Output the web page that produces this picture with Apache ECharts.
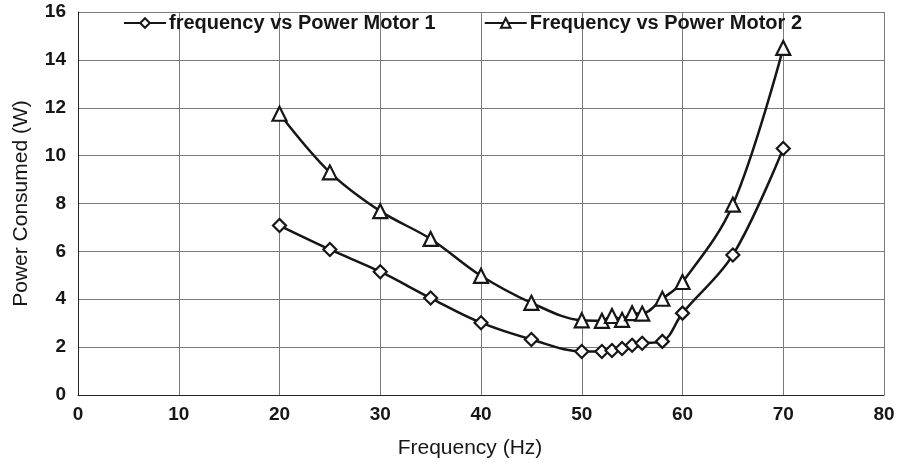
<!DOCTYPE html>
<html><head><meta charset="utf-8">
<script src="https://cdn.jsdelivr.net/npm/echarts@6/dist/echarts.min.js"></script>
<style>html,body{margin:0;padding:0;background:#fff}#c{width:902px;height:465px}</style>
</head><body><div id="c"></div>
<script>
const frequency = [20, 25, 30, 35, 40, 45, 50, 52, 53, 54, 55, 56, 58, 60, 65, 70];
const motor1 = [7.08, 6.08, 5.15, 4.05, 3.02, 2.32, 1.82, 1.82, 1.86, 1.94, 2.08, 2.16, 2.24, 3.42, 5.85, 10.3];
const motor2 = [11.75, 9.3, 7.68, 6.52, 4.98, 3.85, 3.12, 3.1, 3.3, 3.14, 3.42, 3.4, 4.02, 4.72, 7.95, 14.5];
const seriesNames = ['frequency vs Power Motor 1', 'Frequency vs Power Motor 2'];
const xTicks = {min: 0, max: 80, interval: 10};
const yTicks = {min: 0, max: 16, interval: 2};

const chart = echarts.init(document.getElementById('c'));
const font = 'Liberation Sans, Arial, sans-serif';
function mk(name, vals, symbol, size) {
  return {
    name, type: 'line', smooth: 0.35,
    data: frequency.map((f, i) => [f, vals[i]]),
    symbol, symbolSize: size, showAllSymbol: true,
    lineStyle: {color: '#161616', width: 2.5},
    itemStyle: {color: '#fff', borderColor: '#161616', borderWidth: 2.2},
    emphasis: {disabled: true}
  };
}
chart.setOption({
  animation: false,
  backgroundColor: '#fff',
  grid: {left: 78, right: 18, top: 12, bottom: 70, containLabel: false, outerBoundsMode: 'none'},
  legend: {
    top: 8, left: 118, itemGap: 48, itemWidth: 42, itemHeight: 12,
    textStyle: {fontFamily: font, fontWeight: 'bold', fontSize: 20, color: '#161616', padding: [0, 0, 0, -2]},
    data: seriesNames
  },
  xAxis: {
    type: 'value', min: xTicks.min, max: xTicks.max, interval: xTicks.interval,
    name: 'Frequency (Hz)', nameLocation: 'middle', nameGap: 43,
    nameTextStyle: {fontFamily: font, fontSize: 21, color: '#161616', padding: [0, 22, 0, 0]},
    axisLine: {lineStyle: {color: '#222', width: 1}},
    axisTick: {show: false},
    axisLabel: {fontFamily: font, fontWeight: 'bold', fontSize: 19, color: '#161616', margin: 10},
    splitLine: {show: true, lineStyle: {color: '#7a7a7a', width: 1}}
  },
  yAxis: {
    type: 'value', min: yTicks.min, max: yTicks.max, interval: yTicks.interval,
    name: 'Power Consumed (W)', nameLocation: 'middle', nameGap: 46,
    nameTextStyle: {fontFamily: font, fontSize: 21, color: '#161616'},
    axisLine: {show: true, lineStyle: {color: '#222', width: 1}},
    axisTick: {show: false},
    axisLabel: {fontFamily: font, fontWeight: 'bold', fontSize: 19, color: '#161616', margin: 12},
    splitLine: {show: true, lineStyle: {color: '#7a7a7a', width: 1}}
  },
  series: [
    mk(seriesNames[0], motor1, 'diamond', 13),
    mk(seriesNames[1], motor2, 'triangle', 14)
  ]
});
</script></body></html>
